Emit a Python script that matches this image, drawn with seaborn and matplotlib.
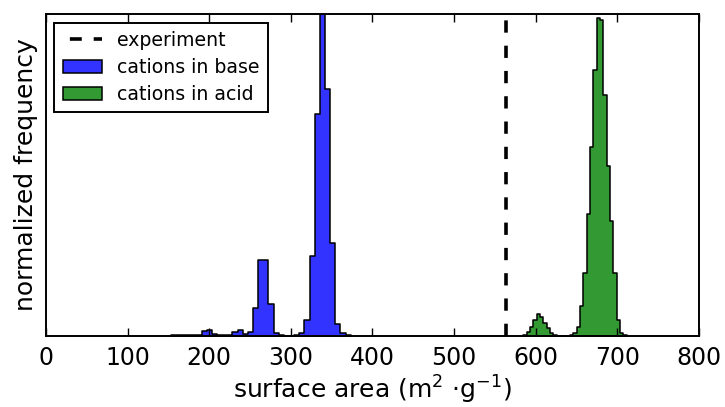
import numpy as np
import pandas as pd
import matplotlib
matplotlib.use("Agg")
import matplotlib.pyplot as plt
from matplotlib.lines import Line2D
from matplotlib.patches import Patch
import seaborn as sns

# ---- data (normalized frequency per bin) ----
base_first_edge = 152.9
base_bin_width = 6.3
base_freq = [0.003, 0.003, 0.003, 0.003, 0.003, 0.002, 0.015, 0.02, 0.006, 0.002,
             0.002, 0.004, 0.014, 0.02, 0.005, 0.014, 0.088, 0.237, 0.237, 0.099,
             0.01, 0.003, 0.0, 0.0, 0.003, 0.01, 0.05, 0.25, 0.69, 1.06,
             0.766, 0.29, 0.036, 0.01, 0.003]

acid_first_edge = 584.8
acid_bin_width = 4.083
acid_freq = [0.003, 0.013, 0.029, 0.05, 0.069, 0.06, 0.039, 0.024, 0.008, 0.002,
             0.0, 0.0, 0.0, 0.0, 0.003, 0.01, 0.029, 0.092, 0.196, 0.378,
             0.586, 0.826, 0.9875, 0.98, 0.748, 0.529, 0.357, 0.196, 0.05, 0.01,
             0.003]

experiment = 563.0

labels = ["experiment", "cations in base", "cations in acid"]
xticks = [0, 100, 200, 300, 400, 500, 600, 700, 800]

base_color = "#3333ff"
acid_color = "#339933"

# ---- figure ----
fig = plt.figure(figsize=(7.25, 4.07), dpi=100)
ax = fig.add_axes([0.0634, 0.1744, 0.9007, 0.7912])


def draw_hist(first_edge, width, freq, color):
    n = len(freq)
    edges = first_edge + width * np.arange(n + 1)
    centers = (edges[:-1] + edges[1:]) / 2
    df = pd.DataFrame({"x": centers, "w": freq})
    sns.histplot(data=df, x="x", weights="w", binwidth=width,
                 binrange=(float(edges[0]), float(edges[-1])), element="step",
                 fill=True, stat="count", facecolor=color, edgecolor="black",
                 linewidth=1.1, alpha=1.0, ax=ax)


draw_hist(base_first_edge, base_bin_width, base_freq, base_color)
draw_hist(acid_first_edge, acid_bin_width, acid_freq, acid_color)

ax.axvline(experiment, color="black", lw=2.6, ls=(0, (3.4, 3.6)), zorder=3)

ax.set_xlim(0, 800)
ax.set_ylim(0, 1.0)
ax.set_xticks(xticks)
ax.set_xticklabels([str(t) for t in xticks])
ax.set_yticks([])
ax.tick_params(axis="x", direction="in", top=True, bottom=True, length=6,
               width=1, labelsize=17, pad=7)
for s in ax.spines.values():
    s.set_linewidth(1.4)
    s.set_color("black")

ax.set_xlabel(r"surface area (m$^2$ $\cdot$g$^{-1}$)", fontsize=18, labelpad=3)
ax.set_ylabel("normalized frequency", fontsize=18, labelpad=6)

handles = [
    Line2D([0], [0], color="black", lw=2.6, ls=(4.7, (3.3, 3.3))),
    Patch(facecolor=base_color, edgecolor="black", linewidth=1.1),
    Patch(facecolor=acid_color, edgecolor="black", linewidth=1.1),
]
leg = ax.legend(handles, labels, loc="upper left", fontsize=13.6,
                fancybox=False, frameon=True, framealpha=1,
                edgecolor="black", borderaxespad=0.45, handlelength=2.05,
                handletextpad=0.8, labelspacing=0.42, borderpad=0.45)
leg.get_frame().set_linewidth(1.4)

fig.savefig("out.png", dpi=100)
